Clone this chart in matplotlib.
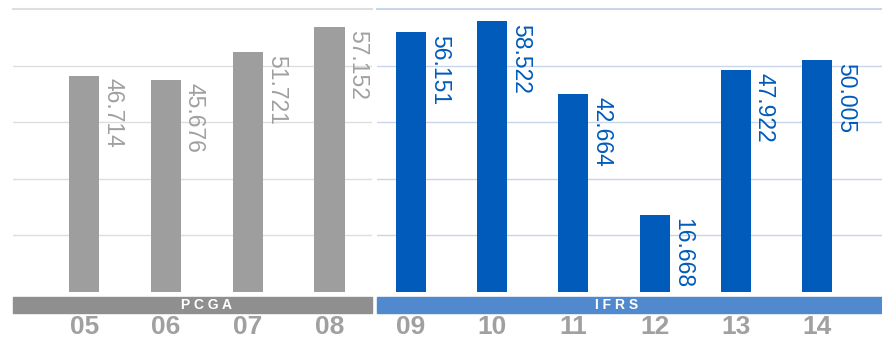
import numpy as np
import matplotlib.pyplot as plt
from matplotlib.patches import Rectangle

plt.rcParams['font.family'] = ['Liberation Sans', 'DejaVu Sans']

# data
pcga_years = ['05', '06', '07', '08']
pcga_values = [46.714, 45.676, 51.721, 57.152]
ifrs_years = ['09', '10', '11', '12', '13', '14']
ifrs_values = [56.151, 58.522, 42.664, 16.668, 47.922, 50.005]

W, H = 882, 339
fig = plt.figure(figsize=(W / 100, H / 100), dpi=100)

grey_bar = '#9e9e9e'
blue_bar = '#005bbb'
tick_col = '#a0a0a0'
ymax = 61.1
grid_step = 12.22


def panel(left_px, width_px, years, values, xlim, bar_col, lab_col, grid_col, band_col, band_text, band_x):
    ax = fig.add_axes([left_px / W, (H - 292) / H, width_px / W, 283 / H])
    x = np.arange(len(values))
    ax.bar(x, values, width=0.37, color=bar_col, zorder=3)
    for xi, v in zip(x, values):
        ax.annotate(f'{v:.3f}', (xi, v), xytext=(20.5, -2), textcoords='offset points',
                    rotation=270, ha='center', va='top', fontsize=16.5, color=lab_col)
    ax.set_xlim(*xlim)
    ax.set_ylim(0, ymax)
    for k in range(1, 5):
        ax.axhline(k * grid_step, color=grid_col, lw=1, zorder=1)
    ax.axhline(ymax, color=grid_col, lw=1.5, zorder=1, clip_on=False)
    for s in ax.spines.values():
        s.set_visible(False)
    ax.set_yticks([])
    ax.set_xticks(x, years)
    ax.tick_params(axis='x', length=0, pad=16.5, labelsize=19, labelcolor=tick_col)
    for t in ax.get_xticklabels():
        t.set_fontweight('bold')
    ax.add_patch(Rectangle((0, -21 / 283), 1, 16 / 283, transform=ax.transAxes,
                           color=band_col, clip_on=False, zorder=2))
    ax.text(band_x, -13 / 283, band_text, transform=ax.transAxes, ha='center', va='center',
            color='white', fontsize=10, fontweight='bold', clip_on=False)
    return ax


panel(13, 359, pcga_years, pcga_values, (-0.87, 3.52), grey_bar, tick_col, '#dedede',
      '#8f8f8f', 'P C G A', 0.54)
panel(377, 505, ifrs_years, ifrs_values, (-0.42, 5.8), blue_bar, blue_bar, '#c9d5ea',
      '#5189cf', 'I F R S', 0.475)

fig.savefig('out.png', dpi=100)
